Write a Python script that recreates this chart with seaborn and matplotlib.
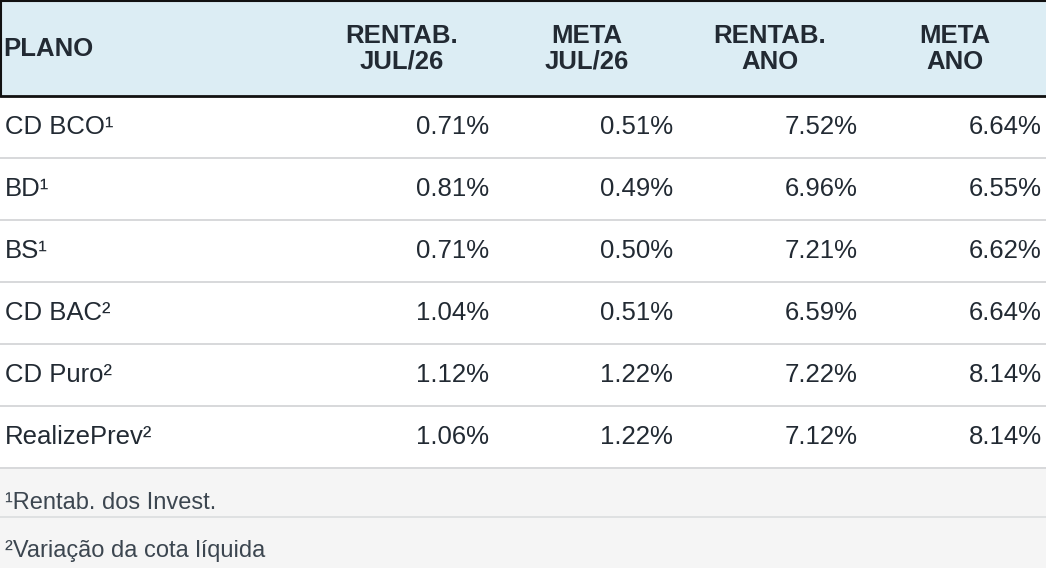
import matplotlib
matplotlib.use("Agg")
import matplotlib.pyplot as plt
import seaborn as sns
from matplotlib.patches import Rectangle

sns.set_theme(style="white")
plt.rcParams['font.family'] = ['Liberation Sans', 'DejaVu Sans']

# table data
columns = ["PLANO", "RENTAB.\nJUL/26", "META\nJUL/26", "RENTAB.\nANO", "META\nANO"]
planos = ["CD BCO¹", "BD¹", "BS¹", "CD BAC²", "CD Puro²", "RealizePrev²"]
rentab_mes = ["0.71%", "0.81%", "0.71%", "1.04%", "1.12%", "1.06%"]
meta_mes = ["0.51%", "0.49%", "0.50%", "0.51%", "1.22%", "1.22%"]
rentab_ano = ["7.52%", "6.96%", "7.21%", "6.59%", "7.22%", "7.12%"]
meta_ano = ["6.64%", "6.55%", "6.62%", "6.64%", "8.14%", "8.14%"]
notes = ["¹Rentab. dos Invest.", "²Variação da cota líquida"]

W, H = 1046, 568
fig = plt.figure(figsize=(W / 100, H / 100), dpi=100)
ax = fig.add_axes([0, 0, 1, 1])
ax.set_xlim(0, W)
ax.set_ylim(H, 0)
ax.axis("off")

txt = "#222a33"
# header
ax.add_patch(Rectangle((0, 0), W, 96, facecolor="#dcedf4", edgecolor="none"))
ax.plot([1, W], [1, 1], color="#111111", lw=1.5)
ax.plot([1, 1], [0, 96], color="#111111", lw=1.5)
ax.plot([0, W], [96, 96], color="#111111", lw=2)
head_x = [3, 402, 587, 770, 955]
for i, c in enumerate(columns):
    ha = "left" if i == 0 else "center"
    ax.text(head_x[i], 49, c, ha=ha, va="center", fontsize=18.5, fontweight="bold",
            color=txt, linespacing=1.1)

# body
row_h = 62
right_x = [489, 673, 858, 1042]
for r, name in enumerate(planos):
    yc = 96 + row_h * r + row_h / 2
    ax.text(5, yc, name, ha="left", va="center", fontsize=18.5, color=txt)
    for j, col in enumerate([rentab_mes, meta_mes, rentab_ano, meta_ano]):
        ax.text(right_x[j], yc, col[r], ha="right", va="center", fontsize=18.5, color=txt)
    ax.plot([0, W], [96 + row_h * (r + 1)] * 2, color="#d4d6d8", lw=1.3)

# footnotes
ax.add_patch(Rectangle((0, 469), W, H - 469, facecolor="#f5f5f5", edgecolor="none"))
ax.plot([0, W], [517, 517], color="#dddfe1", lw=1.3)
for k, n in enumerate(notes):
    ax.text(5, [503, 551][k], n, ha="left", va="center", fontsize=17, color="#3c4650")

fig.savefig("out.png", dpi=100)
